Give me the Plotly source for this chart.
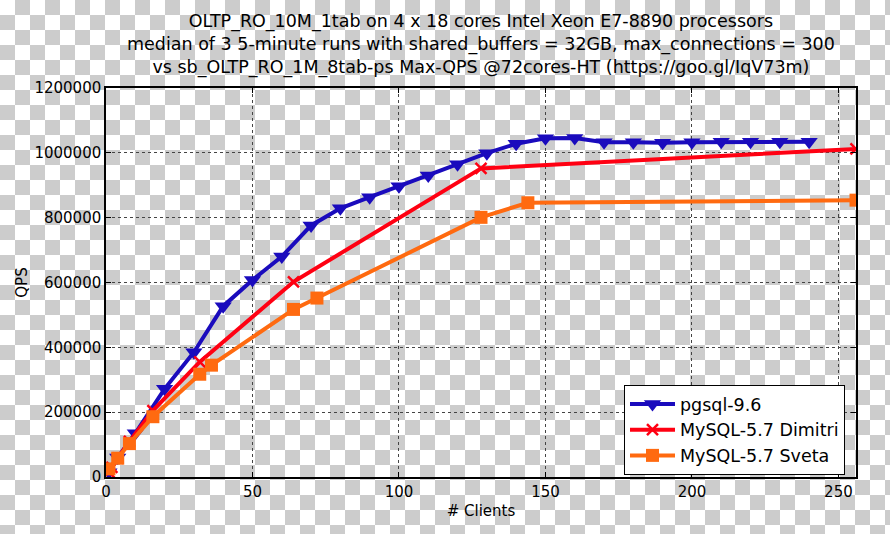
import base64
import plotly.graph_objects as go

# ---- data ----
pg_x = [1, 4, 10, 20, 30, 40, 50, 60, 70, 80, 90, 100, 110, 120, 130, 140, 150, 160,
        170, 180, 190, 200, 210, 220, 230, 240]
pg_y = [15000, 60000, 135000, 272000, 385000, 527000, 608000, 680000, 776000, 829000,
        863000, 897000, 930000, 965000, 999000, 1028000, 1045000, 1046000, 1033000,
        1033000, 1031000, 1033000, 1034000, 1034000, 1034000, 1034000]

dim_x = [1, 2, 4, 8, 16, 32, 64, 128, 256]
dim_y = [15000, 30000, 58000, 110000, 205000, 355000, 602000, 952000, 1012000]

sv_x = [1, 4, 8, 16, 32, 36, 64, 72, 128, 144, 256]
sv_y = [25000, 58000, 103000, 186000, 317000, 345000, 517000, 552000, 801000, 846000, 854000]

x_ticks = [0, 50, 100, 150, 200, 250]
y_ticks = [0, 200000, 400000, 600000, 800000, 1000000, 1200000]

title_lines = [
    "OLTP_RO_10M_1tab on 4 x 18 cores Intel Xeon E7-8890 processors",
    "median of 3 5-minute runs with shared_buffers = 32GB, max_connections = 300",
    "vs sb_OLTP_RO_1M_8tab-ps Max-QPS @72cores-HT (https://goo.gl/IqV73m)",
]

# ---- layout geometry ----
W, H = 890, 534
L, R, T, B = 106, 34, 88, 57
PW, PH = W - L - R, H - T - B

# checkerboard (transparent background look)
svg = (f'<svg xmlns="http://www.w3.org/2000/svg" width="{W}" height="{H}">'
       '<defs><pattern id="c" width="30" height="30" patternUnits="userSpaceOnUse">'
       '<rect width="30" height="30" fill="#ffffff"/>'
       '<rect x="15" y="0" width="15" height="15" fill="#cccccc"/>'
       '<rect x="0" y="15" width="15" height="15" fill="#cccccc"/>'
       '</pattern></defs>'
       f'<rect width="{W}" height="{H}" fill="url(#c)"/></svg>')
svg_uri = "data:image/svg+xml;base64," + base64.b64encode(svg.encode()).decode()

FONT = "DejaVu Sans"

fig = go.Figure()
fig.add_trace(go.Scatter(
    x=pg_x, y=pg_y, name="pgsql-9.6", mode="lines+markers",
    line=dict(color="#1a0bbd", width=4),
    marker=dict(symbol="triangle-down", size=15, color="#1a0bbd"),
))
fig.add_trace(go.Scatter(
    x=dim_x, y=dim_y, name="MySQL-5.7 Dimitri", mode="lines+markers",
    line=dict(color="#ff0012", width=4),
    marker=dict(symbol="x-thin", size=11, color="#ff0012",
                line=dict(color="#ff0012", width=2.5)),
))
fig.add_trace(go.Scatter(
    x=sv_x, y=sv_y, name="MySQL-5.7 Sveta", mode="lines+markers",
    line=dict(color="#ff6a10", width=4),
    marker=dict(symbol="square", size=13, color="#ff6a10"),
))

axis_common = dict(
    showline=True, linecolor="black", linewidth=1.5, mirror="ticks",
    ticks="inside", ticklen=5, tickwidth=1, tickcolor="black",
    showgrid=True, gridcolor="#444444", gridwidth=1, griddash="dot",
    zeroline=False, tickfont=dict(family=FONT, size=15, color="black"),
)

fig.update_layout(
    width=W, height=H,
    margin=dict(l=L, r=R, t=T, b=B, autoexpand=False),
    paper_bgcolor="white",
    plot_bgcolor="rgba(0,0,0,0)",
    font=dict(family=FONT, color="black"),
    images=[dict(source=svg_uri, xref="paper", yref="paper",
                 x=-L / PW, y=1 + T / PH, sizex=W / PW, sizey=H / PH,
                 xanchor="left", yanchor="top", sizing="stretch", layer="below")],
    annotations=[dict(text="<br>".join(title_lines), x=0.5, xref="paper", xanchor="center",
                      y=1 + (T - 9) / PH, yref="paper", yanchor="top", showarrow=False,
                      align="center",
                      font=dict(family=FONT, size=17.5, color="black"))],
    xaxis=dict(range=[0, 256], tickvals=x_ticks,
               title=dict(text="# Clients", font=dict(family=FONT, size=15), standoff=6),
               **axis_common),
    yaxis=dict(range=[0, 1200000], tickvals=y_ticks, tickformat="d",
               title=dict(text="QPS", font=dict(family=FONT, size=15), standoff=3),
               **axis_common),
    legend=dict(x=(624 - L) / PW, y=(H - B - 385) / PH, xanchor="left", yanchor="top",
                bgcolor="white", bordercolor="black", borderwidth=1,
                font=dict(family=FONT, size=17.5, color="black"), itemwidth=45,
                tracegroupgap=2),
    showlegend=True,
)

fig.write_html("out.html",
               config={"displayModeBar": False},
               post_script="document.body.style.margin='0';document.body.style.padding='0';")
